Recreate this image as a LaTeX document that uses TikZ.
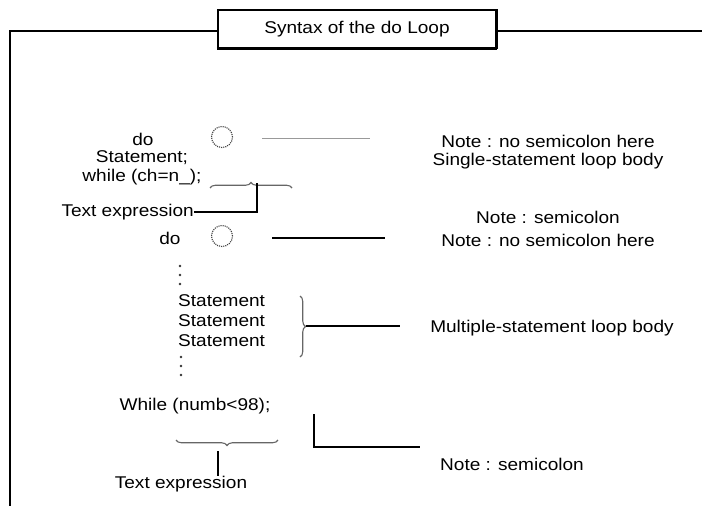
\documentclass[tikz,border=0pt]{standalone}
\usepackage{fontspec}
\setmainfont{Liberation Sans}[FakeStretch=1.12]
\usetikzlibrary{decorations.pathreplacing}
\begin{document}
\begin{tikzpicture}[x=1pt,y=-1pt,
  every node/.style={font=\fontsize{17}{20}\selectfont, inner sep=0pt},
  txt/.style={anchor=center},
  frameline/.style={line width=2pt},
  conn/.style={line width=2pt},
  thinconn/.style={line width=0.9pt, black!40},
  holder/.style={circle, draw=black!75, densely dotted, line width=1.1pt, minimum size=21pt},
  dot/.style={circle, fill=black!80, inner sep=0pt, minimum size=2.6pt},
  bracepath/.style={decorate, decoration={brace, amplitude=5.5pt}, line width=1.1pt, black!60},
  titlebox/.style={draw, line width=1.3pt, minimum width=278pt, minimum height=38pt, fill=white}
]
\useasboundingbox (0,0) rectangle (702,506);

% title and surrounding frame
\node[titlebox] (title) at (357,29) {Syntax of the do Loop};
\draw[line width=3pt] ([xshift=-0.6pt]title.south west) -- ([xshift=0.6pt]title.south east);
\draw[line width=2.4pt] (title.south east) -- (title.north east);
\coordinate (fl) at (10,31);
\coordinate (fb) at (10,506);
\coordinate (fr) at (702,31);
\draw[frameline] (title.west |- fl) -- (fl) -- (fb);
\draw[frameline] (title.east |- fr) -- (fr);

% single-statement form
\node[txt] (do1) at (143,139) {do};
\node[txt] (stmt1) at (142,158) {Statement;};
\node[txt] (while1) at (142,177) {while (ch=n\_);};
\node[holder] (c1) at (222,137) {};
\coordinate (l1a) at (262,138);
\coordinate (l1b) at (370,138);
\draw[thinconn] (l1a) -- (l1b);
\node[txt] (n1) at (548,141) {Note : no semicolon here};
\node[txt] (n2) at (548,161) {Single-statement loop body};

% test expression of the first loop
\coordinate (b1l) at (210,188);
\coordinate (b1r) at (292,188);
\coordinate (b1t) at (257,183);
\draw[bracepath] (b1l) -- (b1r);
\node[txt, anchor=east] (te1) at (194,212) {Text expression};
\draw[conn] (te1.east) -- (b1t |- te1.east) -- (b1t);

% multi-statement form
\node[txt] (do2) at (170,238) {do};
\node[holder] (c2) at (222,236) {};
\coordinate (l2a) at (272,238);
\coordinate (l2b) at (385,238);
\draw[conn] (l2a) -- (l2b);
\node[txt] (n3) at (548,217) {Note : semicolon};
\node[txt] (n4) at (548,240) {Note : no semicolon here};

% opening and closing marks of the loop body
\foreach \yy [count=\i] in {266,275,284} \node[dot] (ta\i) at (180,\yy) {};
\node[txt, anchor=west] (s1) at (178,301) {Statement};
\node[txt, anchor=west] (s2) at (178,321) {Statement};
\node[txt, anchor=west] (s3) at (178,341) {Statement};
\foreach \yy [count=\i] in {357,366,375} \node[dot] (tb\i) at (181,\yy) {};

\coordinate (b2t) at (300,296);
\coordinate (b2b) at (300,357);
\draw[bracepath] (b2t) -- (b2b);
\node[txt] (n5) at (552,328) {Multiple-statement loop body};
\coordinate (b2tip) at (306,326);
\coordinate (l3b) at (400,326);
\draw[conn] (b2tip) -- (l3b);

\node[txt] (while2) at (195,406) {While (numb<98);};
\coordinate (b3l) at (176,440);
\coordinate (b3r) at (278,440);
\draw[bracepath] (b3r) -- (b3l);
\coordinate (b3tip) at (218,451);
\node[txt] (te2) at (181,484) {Text expression};
\draw[conn] (b3tip) -- (b3tip |- te2.north);

\coordinate (l4a) at (314,414);
\coordinate (l4b) at (420,447);
\draw[conn] (l4a) |- (l4b);
\node[txt] (n6) at (512,464) {Note : semicolon};
\end{tikzpicture}
\end{document}
